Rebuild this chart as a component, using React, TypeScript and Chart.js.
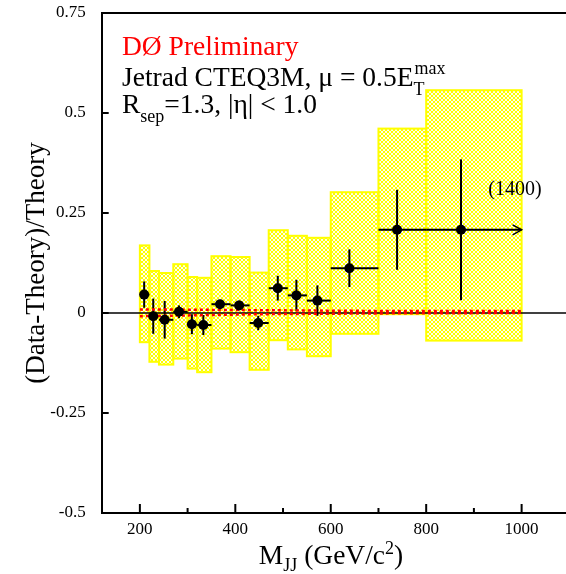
import React, { useEffect, useRef } from "react";
import { Chart, registerables } from "chart.js";

Chart.register(...registerables);

// Dijet mass bins (GeV/c^2)
const binLow = [200, 220, 240, 270, 300, 320, 350, 390, 430, 470, 510, 550, 600, 700, 800];
const binHigh = [220, 240, 270, 300, 320, 350, 390, 430, 470, 510, 550, 600, 700, 800, 1000];
// Mean mass of each bin, where the point sits
const massPoint = [209, 228, 252, 282, 309, 333, 368, 408, 448, 489, 528, 572, 639, 739, 873];
// (Data - Theory) / Theory
const ratio = [0.046, -0.008, -0.017, 0.003, -0.028, -0.03, 0.022, 0.019, -0.025, 0.062, 0.044, 0.031, 0.112, 0.208, 0.208];
const statError = [0.033, 0.044, 0.047, 0.016, 0.025, 0.025, 0.008, 0.012, 0.018, 0.031, 0.039, 0.038, 0.047, 0.1, 0.176];
// Systematic uncertainty band (absolute edges)
const systUpper = [0.169, 0.105, 0.1, 0.122, 0.09, 0.088, 0.142, 0.14, 0.101, 0.207, 0.193, 0.188, 0.302, 0.461, 0.557];
const systLower = [-0.073, -0.122, -0.129, -0.114, -0.139, -0.148, -0.089, -0.098, -0.142, -0.068, -0.091, -0.108, -0.052, -0.003, -0.069];
// Theory normalisation band
const theoryMass = [200, 450, 700, 1000];
const theoryUpper = [0.009, 0.007, 0.005, 0.005];
const theoryLower = [-0.008, -0.003, -0.001, 0.0];
// Last bin really extends to this mass
const lastBinEdge = 1400;

const xMajorTicks = [200, 400, 600, 800, 1000];
const xMinorTicks = [300, 500, 700, 900];
const yTicks = [-0.5, -0.25, 0, 0.25, 0.5, 0.75];

const FAMILY = "'Liberation Serif', 'Times New Roman', serif";
const YELLOW = "#ffff00";

function makeHatch(): CanvasPattern | string {
  const tile = document.createElement("canvas");
  tile.width = 4;
  tile.height = 4;
  const t = tile.getContext("2d");
  if (!t) return YELLOW;
  const img = t.createImageData(4, 4);
  for (let j = 0; j < 4; j++) {
    for (let i = 0; i < 4; i++) {
      const on = i === j || i + j === 3;
      const k = (j * 4 + i) * 4;
      img.data[k] = 255;
      img.data[k + 1] = 255;
      img.data[k + 2] = on ? 0 : 235;
      img.data[k + 3] = 255;
    }
  }
  t.putImageData(img, 0, 0);
  const p = t.createPattern(tile, "repeat");
  return p || YELLOW;
}

function line(ctx: CanvasRenderingContext2D, x0: number, y0: number, x1: number, y1: number) {
  ctx.beginPath();
  ctx.moveTo(x0, y0);
  ctx.lineTo(x1, y1);
  ctx.stroke();
}

const measurementPlugin = {
  id: "measurement",
  beforeDatasetsDraw(chart: any) {
    const { ctx, chartArea } = chart;
    const x = chart.scales.x;
    const y = chart.scales.y;
    ctx.save();
    // hatched systematic boxes
    const hatch = makeHatch();
    for (let i = 0; i < binLow.length; i++) {
      const x0 = x.getPixelForValue(binLow[i]);
      const x1 = x.getPixelForValue(binHigh[i]);
      const y0 = y.getPixelForValue(systUpper[i]);
      const y1 = y.getPixelForValue(systLower[i]);
      ctx.fillStyle = hatch;
      ctx.fillRect(x0, y0, x1 - x0, y1 - y0);
    }
    ctx.strokeStyle = YELLOW;
    ctx.lineWidth = 2;
    for (let i = 0; i < binLow.length; i++) {
      const x0 = x.getPixelForValue(binLow[i]);
      const x1 = x.getPixelForValue(binHigh[i]);
      const y0 = y.getPixelForValue(systUpper[i]);
      const y1 = y.getPixelForValue(systLower[i]);
      ctx.strokeRect(x0, y0, x1 - x0, y1 - y0);
    }
    // zero line
    ctx.strokeStyle = "#000";
    ctx.lineWidth = 1.5;
    const yz = y.getPixelForValue(0);
    line(ctx, chartArea.left, yz, chartArea.right, yz);
    // error bars
    ctx.lineWidth = 2;
    for (let i = 0; i < massPoint.length; i++) {
      const px = x.getPixelForValue(massPoint[i]);
      const py = y.getPixelForValue(ratio[i]);
      line(ctx, px, y.getPixelForValue(ratio[i] + statError[i]), px, y.getPixelForValue(ratio[i] - statError[i]));
      line(ctx, x.getPixelForValue(binLow[i]), py, x.getPixelForValue(binHigh[i]), py);
    }
    // arrow on the open-ended last bin
    const n = massPoint.length - 1;
    const tipX = x.getPixelForValue(binHigh[n]);
    const tipY = y.getPixelForValue(ratio[n]);
    ctx.lineWidth = 1.5;
    ctx.beginPath();
    ctx.moveTo(tipX - 9, tipY - 5);
    ctx.lineTo(tipX, tipY);
    ctx.lineTo(tipX - 9, tipY + 5);
    ctx.stroke();
    ctx.restore();
  },
  afterDraw(chart: any) {
    const { ctx, chartArea } = chart;
    const x = chart.scales.x;
    const y = chart.scales.y;
    ctx.save();
    ctx.strokeStyle = "#000";
    ctx.lineWidth = 2;
    // top frame line
    line(ctx, chartArea.left, chartArea.top, chartArea.right, chartArea.top);
    // inward tick marks
    for (const v of xMajorTicks) {
      const px = x.getPixelForValue(v);
      line(ctx, px, chartArea.bottom, px, chartArea.bottom - 9);
    }
    for (const v of xMinorTicks) {
      const px = x.getPixelForValue(v);
      line(ctx, px, chartArea.bottom, px, chartArea.bottom - 5);
    }
    for (const v of yTicks) {
      const py = y.getPixelForValue(v);
      line(ctx, chartArea.left, py, chartArea.left + 7, py);
    }

    ctx.textBaseline = "alphabetic";
    ctx.textAlign = "left";
    const big = 27.5;
    const small = 18;
    // annotation block
    ctx.fillStyle = "#ff0000";
    ctx.font = `${big}px ${FAMILY}`;
    ctx.fillText("DØ Preliminary", 122, 55);

    ctx.fillStyle = "#000";
    ctx.font = `${big}px ${FAMILY}`;
    const l2 = "Jetrad CTEQ3M, \u03bc = 0.5E";
    ctx.fillText(l2, 122, 86);
    let cx = 122 + ctx.measureText(l2).width;
    ctx.font = `${small}px ${FAMILY}`;
    ctx.fillText("max", cx + 1, 74);
    ctx.fillText("T", cx, 95);

    ctx.font = `${big}px ${FAMILY}`;
    ctx.fillText("R", 122, 113);
    cx = 122 + ctx.measureText("R").width;
    ctx.font = `${small}px ${FAMILY}`;
    ctx.fillText("sep", cx, 122);
    cx += ctx.measureText("sep").width;
    ctx.font = `${big}px ${FAMILY}`;
    ctx.fillText("=1.3, |\u03b7| < 1.0", cx, 113);

    // open-ended bin label
    ctx.font = `20px ${FAMILY}`;
    ctx.textAlign = "center";
    ctx.fillText(`(${lastBinEdge})`, 515, 195);

    // x-axis title with sub/superscript
    ctx.textAlign = "left";
    const parts: [string, number, number][] = [
      ["M", big, 0],
      ["JJ", small, 7],
      [" (GeV/c", big, 0],
      ["2", small, -10],
      [")", big, 0],
    ];
    let total = 0;
    for (const [t, s] of parts) {
      ctx.font = `${s}px ${FAMILY}`;
      total += ctx.measureText(t).width;
    }
    const baseY = 564;
    cx = 331 - total / 2;
    for (const [t, s, dy] of parts) {
      ctx.font = `${s}px ${FAMILY}`;
      ctx.fillText(t, cx, baseY + dy);
      cx += ctx.measureText(t).width;
    }

    // y-axis title
    ctx.translate(44, (chartArea.top + chartArea.bottom) / 2);
    ctx.rotate(-Math.PI / 2);
    ctx.textAlign = "center";
    ctx.font = `27px ${FAMILY}`;
    ctx.fillText("(Data-Theory)/Theory", 0, 0);
    ctx.restore();
  },
};

export default function App() {
  const canvasRef = useRef<HTMLCanvasElement | null>(null);

  useEffect(() => {
    const canvas = canvasRef.current;
    if (!canvas) return;
    const points = massPoint.map((m, i) => ({ x: m, y: ratio[i] }));
    const upper = theoryMass.map((m, i) => ({ x: m, y: theoryUpper[i] }));
    const lower = theoryMass.map((m, i) => ({ x: m, y: theoryLower[i] }));

    const chart = new Chart(canvas, {
      type: "scatter",
      data: {
        datasets: [
          {
            label: "data",
            data: points,
            pointRadius: 5,
            pointBackgroundColor: "#000",
            pointBorderWidth: 0,
            showLine: false,
          },
          {
            label: "theory upper",
            data: upper,
            showLine: true,
            borderColor: "#ff0000",
            borderWidth: 2.5,
            borderDash: [3, 3],
            pointRadius: 0,
          },
          {
            label: "theory lower",
            data: lower,
            showLine: true,
            borderColor: "#ff0000",
            borderWidth: 2.5,
            borderDash: [3, 3],
            pointRadius: 0,
          },
        ],
      },
      options: {
        responsive: false,
        animation: false,
        devicePixelRatio: 1,
        layout: { autoPadding: false, padding: { top: 13, left: 0, right: 0, bottom: 0 } },
        plugins: {
          legend: { display: false },
          tooltip: { enabled: false },
        },
        scales: {
          x: {
            type: "linear",
            min: 120,
            max: 1093,
            afterBuildTicks: (s: any) => {
              s.ticks = xMajorTicks.map((v) => ({ value: v }));
            },
            afterFit: (s: any) => {
              s.height = 61;
              s.paddingLeft = 0;
              s.paddingRight = 0;
            },
            grid: { display: false, drawTicks: false },
            border: { display: true, color: "#000", width: 2 },
            ticks: {
              color: "#000",
              font: { family: FAMILY, size: 17 },
              padding: 6,
              maxRotation: 0,
              autoSkip: false,
              callback: (v: any) => String(v),
            },
          },
          y: {
            type: "linear",
            min: -0.5,
            max: 0.75,
            afterBuildTicks: (s: any) => {
              s.ticks = yTicks.map((v) => ({ value: v }));
            },
            afterFit: (s: any) => {
              s.width = 101.7;
              s.paddingTop = 0;
              s.paddingBottom = 0;
            },
            grid: { display: false, drawTicks: false },
            border: { display: true, color: "#000", width: 2 },
            ticks: {
              color: "#000",
              font: { family: FAMILY, size: 17 },
              padding: 16,
              autoSkip: false,
              callback: (v: any) => String(v),
            },
          },
        },
      },
      plugins: [measurementPlugin],
    });
    return () => chart.destroy();
  }, []);

  return (
    <div style={{ position: "fixed", left: 0, top: 0, width: 566, height: 574, background: "#fff" }}>
      <canvas ref={canvasRef} width={566} height={574} style={{ display: "block" }} />
    </div>
  );
}
